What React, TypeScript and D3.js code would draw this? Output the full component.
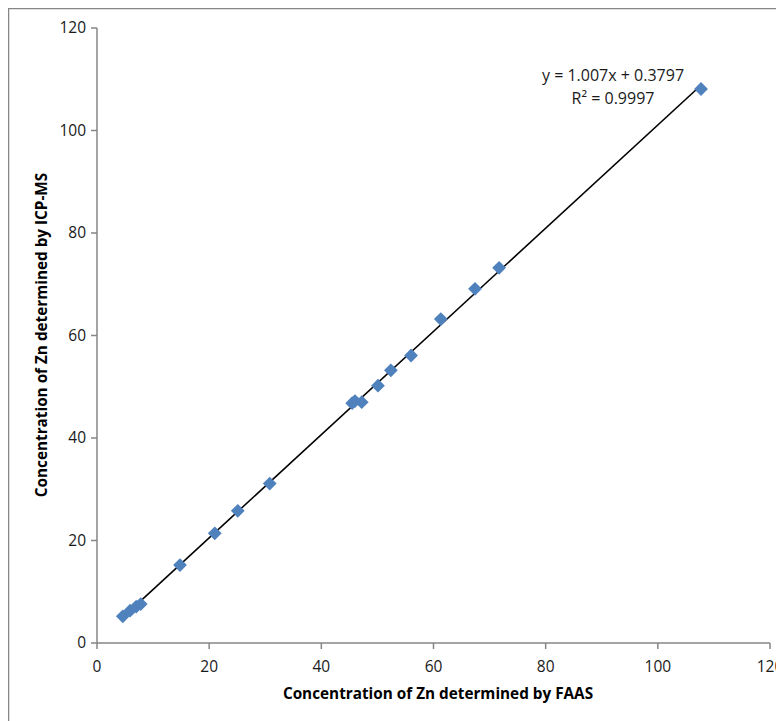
import * as d3 from 'd3'

// Zn concentrations (FAAS vs ICP-MS)
const faas = [4.6, 5.9, 7.0, 7.8, 14.8, 21.0, 25.1, 30.8, 45.5, 46.0, 47.2, 50.1, 52.4, 56.0, 61.3, 67.4, 71.7, 107.7]
const icpms = [5.2, 6.3, 7.1, 7.6, 15.2, 21.4, 25.8, 31.1, 46.8, 47.2, 47.0, 50.2, 53.2, 56.1, 63.2, 69.1, 73.2, 108.1]
const xTicks = [0, 20, 40, 60, 80, 100, 120]
const yTicks = [0, 20, 40, 60, 80, 100, 120]
const slope = 1.007
const intercept = 0.3797
const eqLabel = 'y = 1.007x + 0.3797'
const r2Label = 'R² = 0.9997'

const W = 776
const H = 713
const font = '"Open Sans", sans-serif'
const axisColor = '#868686'

const App = () => {
  const x = d3.scaleLinear().domain([0, 120]).range([89, 762])
  const y = d3.scaleLinear().domain([0, 120]).range([635, 20])

  const diamond = d3.symbol(d3.symbolSquare, 95)()
  const xs = d3.extent(faas) as [number, number]
  const fit = d3.line<number>().x(d => x(d)).y(d => y(slope * d + intercept))

  return (
    <svg width={W} height={H} style={{ display: 'block' }}>
      <rect x={0.5} y={0.5} width={W + 10} height={H + 10} fill="white" stroke={axisColor} strokeWidth={1.5} />

      {/* y axis */}
      <line x1={x(0)} x2={x(0)} y1={y(0)} y2={y(120)} stroke={axisColor} strokeWidth={1.5} />
      {yTicks.map(t => (
        <g key={'y' + t}>
          <line x1={x(0) - 6} x2={x(0)} y1={y(t)} y2={y(t)} stroke={axisColor} strokeWidth={1.5} />
          <text x={x(0) - 11} y={y(t)} dy="0.35em" textAnchor="end" fontFamily={font} fontSize={15.5} fill="#1a1a1a">{t}</text>
        </g>
      ))}

      {/* x axis */}
      <line x1={x(0)} x2={x(120)} y1={y(0)} y2={y(0)} stroke={axisColor} strokeWidth={1.5} />
      {xTicks.map(t => (
        <g key={'x' + t}>
          <line x1={x(t)} x2={x(t)} y1={y(0)} y2={y(0) + 6} stroke={axisColor} strokeWidth={1.5} />
          <text x={x(t)} y={y(0) + 29} textAnchor="middle" fontFamily={font} fontSize={15.5} fill="#1a1a1a">{t}</text>
        </g>
      ))}

      {/* trendline */}
      <path d={fit(xs) ?? ''} stroke="black" strokeWidth={1.6} fill="none" />

      {/* points */}
      {faas.map((v, i) => (
        <path key={i} d={diamond ?? ''} transform={`translate(${x(v)},${y(icpms[i])}) rotate(45)`} fill="#4F81BD" />
      ))}

      <text x={605} y={73} textAnchor="middle" fontFamily={font} fontSize={16} fill="#1a1a1a">{eqLabel}</text>
      <text x={605} y={96} textAnchor="middle" fontFamily={font} fontSize={16} fill="#1a1a1a">{r2Label}</text>

      <text x={430} y={691} textAnchor="middle" fontFamily={font} fontSize={15.3} fontWeight="bold" fill="black">
        Concentration of Zn determined by FAAS
      </text>
      <text transform={`translate(39,${327}) rotate(-90)`} textAnchor="middle" fontFamily={font} fontSize={15.3} fontWeight="bold" fill="black">
        Concentration of Zn determined by ICP-MS
      </text>
    </svg>
  )
}

export default App
